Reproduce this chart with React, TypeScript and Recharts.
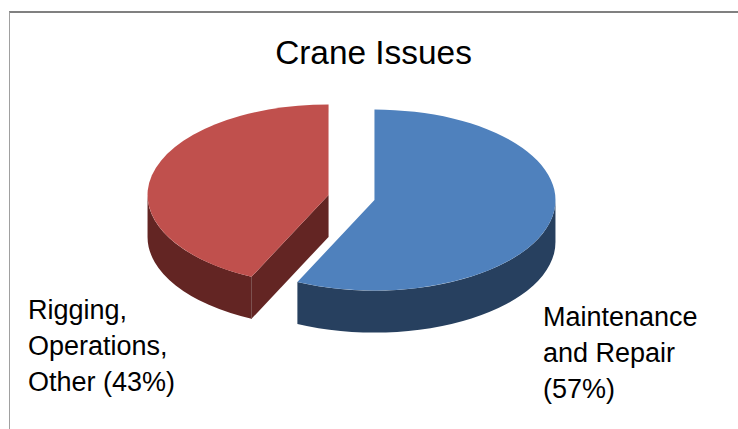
import { Pie, PieChart } from "recharts";

const categories = ["Maintenance and Repair", "Rigging, Operations, Other"];
const shares = [57, 43];
const topColors = ["#4f81bd", "#c0504d"];
const sideColors = ["#27405f", "#632523"];
const labelLines = [
  ["Maintenance", "and Repair", "(57%)"],
  ["Rigging,", "Operations,", "Other (43%)"],
];
const labelAnchors = [
  { x: 543, y: 326 },
  { x: 28, y: 318.5 },
];

const rows = categories.map((name, i) => ({
  name,
  value: shares[i],
  fill: topColors[i],
  side: sideColors[i],
}));

const TILT = 0.5;
const DEPTH = 42;
const EXPLODE = 0.13;
const RAD = Math.PI / 180;

// Pie sector flattened to an ellipse, with an extruded rim and pulled out along its mid angle
function Sector3D(props: any) {
  const { cx, cy, outerRadius: rx, startAngle, endAngle, midAngle, fill, side } = props;
  const ry = rx * TILT;
  const ox = cx + EXPLODE * rx * Math.cos(midAngle * RAD);
  const oy = cy - EXPLODE * ry * Math.sin(midAngle * RAD);
  const pt = (a: number, dy = 0) => ({
    x: ox + rx * Math.cos(a * RAD),
    y: oy - ry * Math.sin(a * RAD) + dy,
  });
  const a1 = Math.max(startAngle, endAngle);
  const a2 = Math.min(startAngle, endAngle);

  const p1 = pt(a1);
  const p2 = pt(a2);
  const large = a1 - a2 > 180 ? 1 : 0;
  const top = `M${ox},${oy} L${p1.x},${p1.y} A${rx},${ry} 0 ${large} 1 ${p2.x},${p2.y} Z`;

  // the rim only shows on the near half of the ellipse
  const rimFrom = Math.min(a1, 0);
  const rimTo = Math.max(a2, -180);
  let rim = "";
  if (rimFrom > rimTo) {
    const r1 = pt(rimFrom);
    const r2 = pt(rimTo);
    const r3 = pt(rimTo, DEPTH);
    const r4 = pt(rimFrom, DEPTH);
    rim = `M${r1.x},${r1.y} A${rx},${ry} 0 0 1 ${r2.x},${r2.y} L${r3.x},${r3.y} A${rx},${ry} 0 0 0 ${r4.x},${r4.y} Z`;
  }

  // cut faces, drawn when they turn towards the viewer
  const faces = [
    { a: a1, normal: a1 + 90 },
    { a: a2, normal: a2 - 90 },
  ].filter((f) => Math.sin(f.normal * RAD) < -0.01);

  return (
    <g>
      {rim && <path d={rim} fill={side} />}
      {faces.map((f) => {
        const e = pt(f.a);
        return (
          <g key={f.a}>
            <path
              d={`M${ox},${oy} L${e.x},${e.y} L${e.x},${e.y + DEPTH} L${ox},${oy + DEPTH} Z`}
              fill={side}
            />
            <line x1={e.x} y1={e.y} x2={e.x} y2={e.y + DEPTH} stroke="#7d5250" strokeWidth={1} />
          </g>
        );
      })}
      <path d={top} fill={fill} />
    </g>
  );
}

function SliceLabel(props: any) {
  const { index } = props;
  const { x, y } = labelAnchors[index];
  return (
    <text x={x} y={y} fill="#000" fontSize={27} fontFamily="Liberation Sans">
      {labelLines[index].map((line, i) => (
        <tspan key={line} x={x} y={y + i * 36}>
          {line}
        </tspan>
      ))}
    </text>
  );
}

export default function App() {
  return (
    <div style={{ position: "absolute", left: 0, top: 0, width: 738, height: 429, background: "#fff" }}>
      <div
        style={{
          position: "absolute",
          left: 9,
          top: 11,
          right: 0,
          bottom: 0,
          borderTop: "2px solid #808080",
          borderLeft: "1px solid #a0a0a0",
        }}
      />
      <PieChart
        width={738}
        height={429}
        margin={{ top: 0, right: 0, bottom: 0, left: 0 }}
        style={{ position: "absolute", left: 0, top: 0 }}
      >
        <text x={373.5} y={64} textAnchor="middle" fill="#000" fontSize={33.4} fontFamily="Liberation Sans">
          Crane Issues
        </text>
        <Pie
          data={rows}
          dataKey="value"
          nameKey="name"
          cx={351.5}
          cy={197.5}
          outerRadius={181}
          startAngle={90}
          endAngle={-270}
          stroke="none"
          shape={Sector3D}
          label={SliceLabel}
          labelLine={false}
          isAnimationActive={false}
        />
      </PieChart>
    </div>
  );
}
